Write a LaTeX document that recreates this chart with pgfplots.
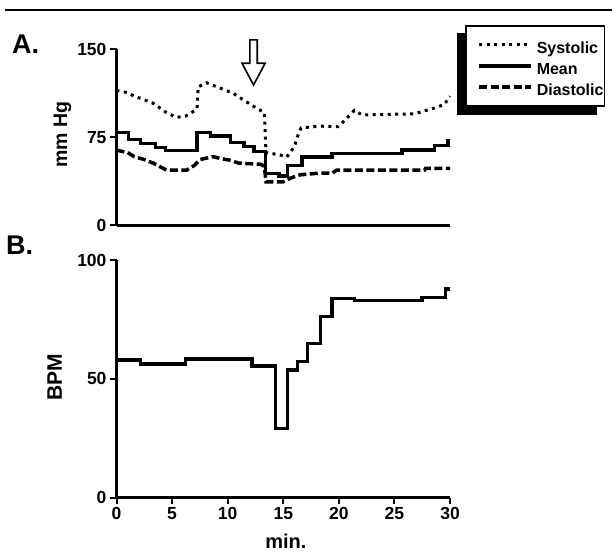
\documentclass[border=0pt]{standalone}
\usepackage{fontspec}
\setmainfont{Liberation Sans}
\usepackage{pgfplots}
\usepackage{pgfplotstable}
\pgfplotsset{compat=1.18}
\pgfdeclarelayer{background}
\pgfsetlayers{background,main}

% blood pressure, mm Hg
\pgfplotstableread{
t    sys
0     115
1.0   113
1.6   110
2.5   107
3.3   104
4.5   96
5.4   92
6.2   93
6.9   97
7.25  99
7.35  118
8.1   121.5
9.3   117
10.5  112.5
11.4  107
12.4  101
13.3  96
13.45 62
14.7  60
15.3  58
16.0  67
16.3  76
16.6  83
18.3  84.5
19.9  84
20.6  90
21.4  98
22.1  94
26.8  95
28.6  100
29.5  103
30    110
}\systolic

\pgfplotstableread{
t     mean
0     79
1.08  73.3
2.14  69.9
3.49  66.2
4.39  63.6
7.25  78.9
8.45  76.1
10.25 70.4
11.45 67
12.35 62.7
13.4  44.3
14.6  42
15.36 50.8
16.7  58
19.4  61.4
25.7  64.2
28.6  67.9
29.8  72.1
30    72.1
}\meanbp

\pgfplotstableread{
t     dia
0     64
1.0   62
1.6   58.5
2.5   56
3.3   53
4.5   47
6.3   47
7.0   51
7.5   56
8.7   58.5
9.3   57
10.2  55.5
11.0  53
13.0  52
13.3  50
13.45 37
15.0  37
15.6  40
16.5  43
18.3  44.5
19.4  44.5
19.8  47
27.7  47
27.8  48.5
30    48.5
}\diastolic

% heart rate
\pgfplotstableread{
t     bpm
0     57.9
2.14  56.2
6.19  58.3
12.2  55.5
14.3  29.2
15.36 53.7
16.27 57.2
17.2  64.9
18.37 76.2
19.4  83.9
21.4  82.9
27.5  84.3
29.6  87.7
30    87.7
}\heartrate

\pgfplotsset{
  panel/.style={
    scale only axis, width=333.5pt,
    xmin=0, xmax=30,
    axis x line*=bottom, axis y line*=left,
    axis line style={-, line width=2.5pt},
    tick align=outside, major tick length=6.5pt,
    tick style={line width=2pt, black},
    tick label style={font=\fontsize{17.5}{20}\selectfont\bfseries},
    /pgf/number format/assume math mode=true,
    clip=false,
  },
  sysline/.style={black, line width=3pt, dash pattern=on 3pt off 4.5pt},
  meanline/.style={black, line width=3.5pt},
  dialine/.style={black, line width=3.5pt, dash pattern=on 8pt off 3.5pt},
}

\begin{document}
\begin{tikzpicture}
\useasboundingbox (0,0) rectangle (612pt,551pt);
\draw[line width=2.5pt] (5pt,541pt) -- (612pt,541pt);
\node[anchor=base west, inner sep=0pt, font=\fontsize{27}{30}\selectfont\bfseries] at (12pt,497.7pt) {A.};
\node[anchor=base west, inner sep=0pt, font=\fontsize{27}{30}\selectfont\bfseries] at (6pt,296pt) {B.};

\begin{axis}[panel,
  at={(116.5pt,325.7pt)}, anchor=south west,
  height=176pt,
  ymin=0, ymax=150, ytick={0,75,150}, xtick=\empty,
  ylabel={mm Hg},
  ylabel style={at={(axis description cs:-0.148,0.515)}, anchor=base,
    font=\fontsize{19.5}{22}\selectfont\bfseries},
  legend cell align=left,
  legend image code/.code={\path (-10.5pt,0pt); \draw[#1] (0pt,0pt) -- (52pt,0pt);},
  legend style={name=lgd, at={(axis description cs:1.045,1.138)}, anchor=north west,
    draw=black, line width=1.5pt, fill=white,
    inner xsep=1pt, inner ysep=8pt, row sep=-1pt,
    font=\fontsize{16}{19}\selectfont\bfseries,
    nodes={inner sep=0pt, text height=20pt, text depth=2pt},
    /tikz/every odd column/.append style={column sep=4pt}},
]
\addplot[sysline] table[x=t, y=sys] {\systolic};
\addlegendentry{Systolic}
\addplot[meanline, const plot] table[x=t, y=mean] {\meanbp};
\addlegendentry{Mean}
\addplot[dialine] table[x=t, y=dia] {\diastolic};
\addlegendentry{Diastolic}
% open arrow over the trace
\draw[line width=1.6pt, fill=white] (axis cs:12.0,158) -- (axis cs:12.66,158) -- (axis cs:12.66,138.1)
  -- (axis cs:13.37,138.1) -- (axis cs:12.33,119.6) -- (axis cs:11.29,138.1) -- (axis cs:12.0,138.1) -- cycle;
\end{axis}

% legend shadow, behind the box
\begin{pgfonlayer}{background}
\fill[black] ([shift={(-8pt,-8pt)}]lgd.north west) rectangle ([shift={(-8pt,-8pt)}]lgd.south east);
\end{pgfonlayer}

\begin{axis}[panel,
  at={(116.5pt,53.3pt)}, anchor=south west,
  height=237.7pt,
  ymin=0, ymax=100, ytick={0,50,100}, xtick={0,5,...,30},
  ylabel={BPM}, xlabel={min.},
  ylabel style={at={(axis description cs:-0.164,0.506)}, anchor=base,
    font=\fontsize{21}{24}\selectfont\bfseries},
  xlabel style={at={(axis description cs:0.508,-0.212)}, anchor=base,
    font=\fontsize{20}{23}\selectfont\bfseries},
]
\addplot[meanline, const plot] table[x=t, y=bpm] {\heartrate};
\end{axis}
\end{tikzpicture}
\end{document}
